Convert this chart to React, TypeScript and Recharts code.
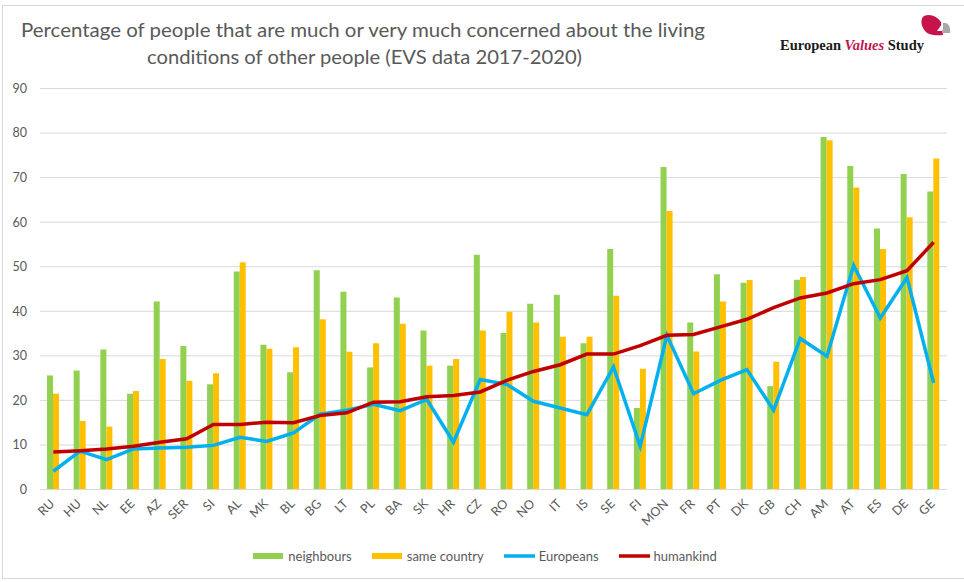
import React from 'react';
import { ComposedChart, Bar, Line, XAxis, YAxis, CartesianGrid, Legend } from 'recharts';

const categories = ['RU','HU','NL','EE','AZ','SER','SI','AL','MK','BL','BG','LT','PL','BA','SK','HR','CZ','RO','NO','IT','IS','SE','FI','MON','FR','PT','DK','GB','CH','AM','AT','ES','DE','GE'];
const neighbours = [25.6,26.7,31.4,21.5,42.2,32.2,23.6,48.9,32.5,26.3,49.2,44.4,27.4,43.1,35.7,27.8,52.7,35.1,41.7,43.7,32.8,54.0,18.3,72.4,37.5,48.3,46.4,23.2,47.1,79.1,72.6,58.6,70.8,66.9];
const sameCountry = [21.5,15.4,14.1,22.1,29.3,24.4,26.1,51.0,31.6,31.9,38.2,30.9,32.8,37.2,27.8,29.3,35.7,39.9,37.5,34.3,34.3,43.5,27.1,62.5,31.0,42.2,47.0,28.7,47.7,78.4,67.8,54.0,61.1,74.3];
const europeans = [4.1,8.6,6.7,9.1,9.3,9.5,9.9,11.7,10.8,12.7,16.9,17.8,19.1,17.7,20.2,10.6,24.7,23.6,19.8,18.3,16.8,27.5,9.7,34.6,21.5,24.5,26.9,17.8,33.9,29.9,50.3,38.5,47.6,23.9];
const humankind = [8.4,8.7,9.1,9.7,10.6,11.4,14.6,14.6,15.1,15.0,16.6,17.2,19.6,19.7,20.8,21.1,21.9,24.5,26.5,28.0,30.4,30.4,32.3,34.6,34.8,36.5,38.2,40.8,43.0,44.1,46.2,47.1,49.1,55.5];
const yTicks = [0,10,20,30,40,50,60,70,80,90];
const titleLines = ['Percentage of people that are much or very much concerned about the living','conditions of other people (EVS data 2017-2020)'];

const W = 964;
const H = 582;
const FONT = 'Lato, "Open Sans", sans-serif';
const GREEN = '#92d050';
const ORANGE = '#ffc000';
const BLUE = '#00b0f0';
const RED = '#c00000';
const TXT = '#595959';

const data = categories.map((c, i) => ({
  name: c,
  neighbours: neighbours[i],
  sameCountry: sameCountry[i],
  europeans: europeans[i],
  humankind: humankind[i],
}));

const XTick = (props: any) => {
  const { x, y, payload } = props;
  const ax = x + 2;
  const ay = y + 15;
  return (
    <text x={ax} y={ay} transform={`rotate(-45 ${ax} ${ay})`} textAnchor="end" fontSize={12.5} fill={TXT} fontFamily={FONT}>
      {payload.value}
    </text>
  );
};

const legendItems = [
  { label: 'neighbours', color: GREEN, type: 'rect' },
  { label: 'same country', color: ORANGE, type: 'rect' },
  { label: 'Europeans', color: BLUE, type: 'line' },
  { label: 'humankind', color: RED, type: 'line' },
];

const LegendContent = () => (
  <div style={{ display: 'flex', justifyContent: 'center', alignItems: 'center', height: 20, fontFamily: FONT, fontSize: 13, color: TXT, paddingLeft: 26 }}>
    {legendItems.map((it) => (
      <div key={it.label} style={{ display: 'flex', alignItems: 'center', marginRight: 20 }}>
        <svg width={32} height={10} style={{ marginRight: 3 }}>
          {it.type === 'rect' ? (
            <rect x={0} y={2} width={30} height={6} fill={it.color} />
          ) : (
            <line x1={0} x2={31} y1={5} y2={5} stroke={it.color} strokeWidth={3.5} />
          )}
        </svg>
        <span>{it.label}</span>
      </div>
    ))}
  </div>
);

export default function App() {
  return (
    <div style={{ position: 'absolute', left: 0, top: 0, width: W, height: H, background: '#fff', overflow: 'hidden' }}>
      <div style={{ position: 'absolute', left: 2, top: 5, width: 990, height: 572, border: '1px solid #d9d9d9' }} />
      <div style={{ position: 'absolute', left: 0, top: 0 }}>
        <ComposedChart width={W} height={H} data={data} margin={{ top: 88.5, right: 17, bottom: 12.5, left: 0 }} barGap={0} barSize={6}>
          <CartesianGrid horizontal vertical={false} stroke="#d9d9d9" strokeWidth={1} />
          <XAxis dataKey="name" interval={0} tickLine={false} tickSize={0} tickMargin={0} height={60} axisLine={{ stroke: '#d9d9d9' }} tick={<XTick />} />
          <YAxis domain={[0, 90]} ticks={yTicks} width={40} axisLine={false} tickLine={false} tickSize={0} tickMargin={13} tick={{ fontSize: 12.5, fill: TXT, fontFamily: FONT }} />
          <Bar dataKey="neighbours" name="neighbours" fill={GREEN} isAnimationActive={false} />
          <Bar dataKey="sameCountry" name="same country" fill={ORANGE} isAnimationActive={false} />
          <Line dataKey="europeans" name="Europeans" stroke={BLUE} strokeWidth={3.5} dot={false} activeDot={false} type="linear" isAnimationActive={false} />
          <Line dataKey="humankind" name="humankind" stroke={RED} strokeWidth={3.5} dot={false} activeDot={false} type="linear" isAnimationActive={false} />
          <Legend verticalAlign="bottom" content={<LegendContent />} wrapperStyle={{ top: 546, left: 0, width: W, height: 20 }} />
        </ComposedChart>
      </div>
      <svg width={W} height={80} style={{ position: 'absolute', left: 0, top: 0, pointerEvents: 'none' }}>
        <text x={363} y={37} textAnchor="middle" fontFamily={FONT} fontSize={20} fill={TXT} textLength={684} lengthAdjust="spacingAndGlyphs">{titleLines[0]}</text>
        <text x={364.5} y={64} textAnchor="middle" fontFamily={FONT} fontSize={20} fill={TXT} textLength={435} lengthAdjust="spacingAndGlyphs">{titleLines[1]}</text>
        <text x={780} y={49.5} fontFamily='"Liberation Serif", "DejaVu Serif", serif' fontSize={14.5} fontWeight="bold" fill="#1a1a1a" textLength={144} lengthAdjust="spacingAndGlyphs">
          European <tspan fill="#c0144c" fontStyle="italic">Values</tspan> Study
        </text>
        <path d="M924 16 C930 13, 938 17, 941 22 L943 35 C936 36, 928 35, 925 31 C921 26, 920 19, 924 16 Z" fill="#c8124a" />
        <path d="M937 31 L942 24 L942 31 Z" fill="#ffffff" />
        <path d="M943 23 C948 22, 951 27, 950 33 L943 33 Z" fill="#a8a8a8" />
      </svg>
    </div>
  );
}
